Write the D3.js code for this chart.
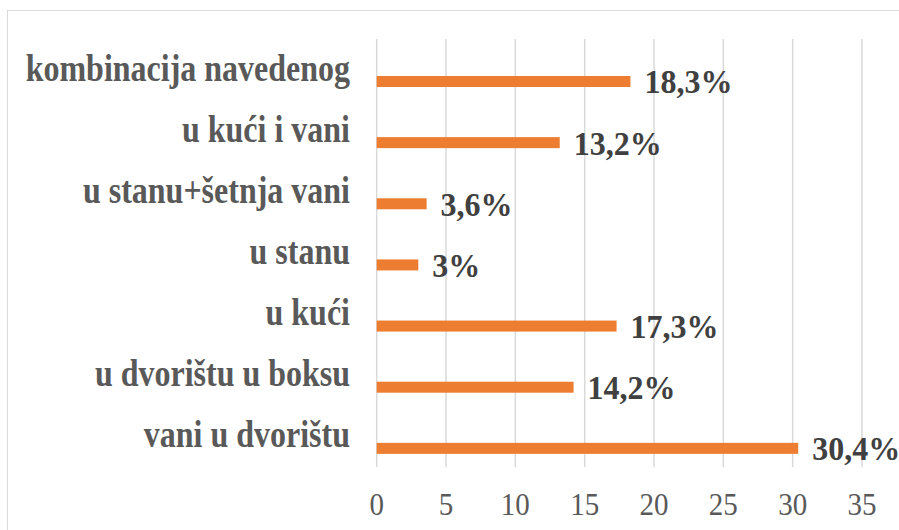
<!DOCTYPE html>
<html>
<head>
<meta charset="utf-8">
<script src="https://cdn.jsdelivr.net/npm/d3@7"></script>
<style>
  body { margin: 0; background: #fff; }
  svg { display: block; }
  svg text { font-family: 'Liberation Serif', 'Times New Roman', Times, serif; }
</style>
</head>
<body>
<div class="chart"></div>
<script>
const categories = ['kombinacija navedenog', 'u kući i vani', 'u stanu+šetnja vani', 'u stanu', 'u kući', 'u dvorištu u boksu', 'vani u dvorištu'];
const values = [18.3, 13.2, 3.6, 3, 17.3, 14.2, 30.4];
const valueLabels = ['18,3%', '13,2%', '3,6%', '3%', '17,3%', '14,2%', '30,4%'];
const ticks = [0, 5, 10, 15, 20, 25, 30, 35];

const width = 899, height = 530;
const plotLeft = 376.7, plotRight = 862;
const plotTop = 39, plotBottom = 467;
const barH = 11;

const svg = d3.select('.chart')
  .append('svg')
    .attr('width', width)
    .attr('height', height);

// chart border (runs off the right/bottom edge)
svg.append('rect')
  .attr('x', 7.5).attr('y', 10.5)
  .attr('width', 900).attr('height', 540)
  .attr('fill', 'none')
  .attr('stroke', '#d9d9d9');

const x = d3.scaleLinear().domain([0, 35]).range([plotLeft, plotRight]);
const y = d3.scaleBand().domain(categories).range([plotTop, plotBottom]);
const bw = y.bandwidth();

// gridlines
svg.append('g')
  .selectAll('line')
  .data(ticks)
  .enter().append('line')
    .attr('x1', d => x(d)).attr('x2', d => x(d))
    .attr('y1', plotTop).attr('y2', plotBottom)
    .attr('stroke', '#d9d9d9')
    .attr('stroke-width', 1.5);

// tick labels
svg.append('g')
  .selectAll('text')
  .data(ticks)
  .enter().append('text')
    .attr('transform', d => `translate(${x(d)}, 515) scale(1, 1.08)`)
    .attr('text-anchor', 'middle')
    .attr('font-size', 29)
    .attr('fill', '#595959')
    .text(d => d);

// bars sit in the lower part of each band
const barY = d => y(d) + bw * 0.695 - barH / 2;

svg.append('g')
  .selectAll('rect')
  .data(categories)
  .enter().append('rect')
    .attr('x', x(0))
    .attr('y', d => barY(d))
    .attr('width', (d, i) => x(values[i]) - x(0))
    .attr('height', barH)
    .attr('fill', '#ED7D31');

// category labels
svg.append('g')
  .selectAll('text')
  .data(categories)
  .enter().append('text')
    .attr('transform', d => `translate(350, ${y(d) + bw / 2 + 11}) scale(1, 1.2)`)
    .attr('text-anchor', 'end')
    .attr('font-weight', 'bold')
    .attr('font-size', 32)
    .attr('fill', '#595959')
    .text(d => d);

// value labels
svg.append('g')
  .selectAll('text')
  .data(categories)
  .enter().append('text')
    .attr('transform', (d, i) => `translate(${x(values[i]) + 14}, ${barY(d) + barH / 2 + 12}) scale(1, 1.08)`)
    .attr('font-weight', 'bold')
    .attr('font-size', 32)
    .attr('fill', '#404040')
    .text((d, i) => valueLabels[i]);
</script>
</body>
</html>
